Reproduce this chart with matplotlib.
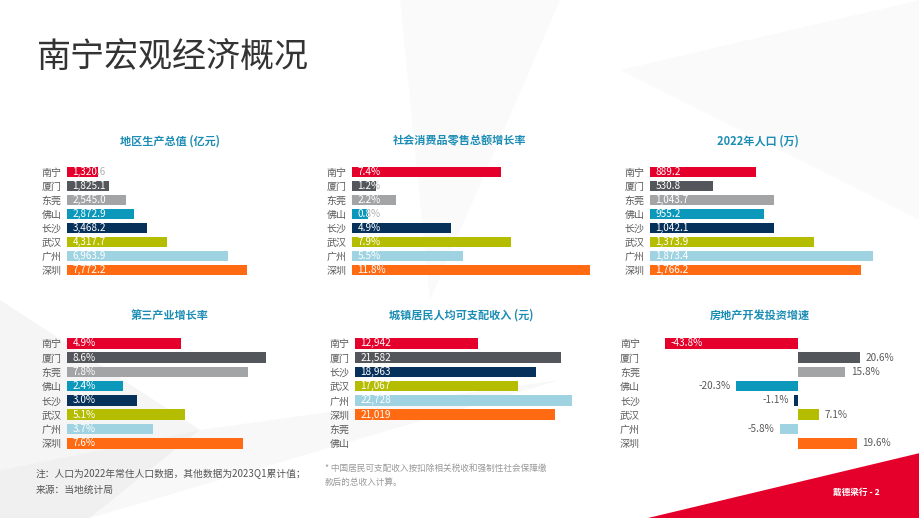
"""
南宁宏观经济概况 - six small bar charts on one slide
"""

import matplotlib.pyplot as plt
from matplotlib.patches import Polygon

plt.rcParams['font.family'] = ['Noto Sans CJK SC', 'DejaVu Sans']

W, H = 920, 518

# data
cities = ['南宁', '厦门', '东莞', '佛山', '长沙', '武汉', '广州', '深圳']
gdp = [1320.6, 1825.1, 2545.0, 2872.9, 3468.2, 4317.7, 6963.9, 7772.2]
retail_growth = [7.4, 1.2, 2.2, 0.8, 4.9, 7.9, 5.5, 11.8]
population = [889.2, 530.8, 1043.7, 955.2, 1042.1, 1373.9, 1873.4, 1766.2]
tertiary_growth = [4.9, 8.6, 7.8, 2.4, 3.0, 5.1, 3.7, 7.6]
income_cities = ['南宁', '厦门', '长沙', '武汉', '广州', '深圳', '东莞', '佛山']
income = [12942, 21582, 18963, 17067, 22728, 21019, None, None]
realestate_growth = [-43.8, 20.6, 15.8, -20.3, -1.1, 7.1, -5.8, 19.6]

city_colors = {
    '南宁': '#E4002B', '厦门': '#53565A', '东莞': '#A2A4A6', '佛山': '#0C98BA',
    '长沙': '#06315A', '武汉': '#B5BD00', '广州': '#9FD3E1', '深圳': '#FF6A13',
}

TITLE_COLOR = '#1C8DB4'
LABEL_COLOR = '#5A5A5A'

fig = plt.figure(figsize=(W / 100, H / 100), dpi=100)
fig.patch.set_facecolor('white')


def fx(x):
    return x / W


def fy(y):
    return 1 - y / H


# faint background shapes
bg = fig.add_axes([0, 0, 1, 1], zorder=-10)
bg.set_xlim(0, W)
bg.set_ylim(H, 0)
bg.axis('off')
shapes = [
    ([(0, 300), (200, 430), (0, 470)], '#f5f5f5'),
    ([(0, 470), (200, 430), (90, 518), (0, 518)], '#f0f0f0'),
    ([(200, 430), (560, 380), (90, 518)], '#f8f8f8'),
    ([(400, 0), (560, 0), (430, 300)], '#fafafa'),
    ([(620, 70), (920, 0), (920, 220)], '#fafafa'),
]
for pts, c in shapes:
    bg.add_patch(Polygon(pts, closed=True, facecolor=c, edgecolor='none'))
# red corner
bg.add_patch(Polygon([(648, 518), (920, 453), (920, 518)], closed=True,
                     facecolor='#E4002B', edgecolor='none'))


def style_axes(ax, labels, pad=4):
    ax.patch.set_alpha(0)
    ax.set_ylim(len(labels) - 0.5, -0.5)
    ax.set_yticks(range(len(labels)))
    ax.set_yticklabels(labels, fontsize=7.2, color=LABEL_COLOR)
    ax.tick_params(axis='y', length=0, pad=pad)
    ax.set_xticks([])
    for s in ax.spines.values():
        s.set_visible(False)


def bar_panel(left, top, width, height, labels, values, xlim, title, title_x,
              title_y, fmt):
    ax = fig.add_axes([fx(left), fy(top + height), fx(width), height / H])
    for i, (lab, v) in enumerate(zip(labels, values)):
        if v is None:
            continue
        bar = ax.barh(i, v, height=0.74, color=city_colors[lab], zorder=1)[0]
        # grey copy below the bar (shows where text runs past it),
        # white copy clipped to the bar
        ax.annotate(fmt(v), xy=(0, i), xytext=(4, 0), textcoords='offset points',
                    ha='left', va='center', color='#b0b0b0', fontsize=7.2,
                    zorder=0.5)
        t = ax.annotate(fmt(v), xy=(0, i), xytext=(4, 0), textcoords='offset points',
                        ha='left', va='center', color='white', fontsize=7.2,
                        zorder=2)
        t.set_clip_path(bar)
    ax.set_xlim(*xlim)
    style_axes(ax, labels)
    fig.text(fx(title_x), fy(title_y), title, ha='center', va='center',
             fontsize=8, fontweight='bold', color=TITLE_COLOR)
    return ax


top_row = (164.7, 112.3)
bot_row = (336.2, 114.2)

bar_panel(67, top_row[0], 180, top_row[1], cities, gdp, (0, 7772.2),
          '地区生产总值 (亿元)', 170, 141, lambda v: f'{v:,.1f}')
bar_panel(352, top_row[0], 237.6, top_row[1], cities, retail_growth, (0, 11.8),
          '社会消费品零售总额增长率', 460, 141, lambda v: f'{v:.1f}%')
bar_panel(650, top_row[0], 223.3, top_row[1], cities, population, (0, 1873.4),
          '2022年人口 (万)', 758, 141, lambda v: f'{v:,.1f}')
bar_panel(67, bot_row[0], 199.3, bot_row[1], cities, tertiary_growth, (0, 8.6),
          '第三产业增长率', 170, 315, lambda v: f'{v:.1f}%')
bar_panel(355, bot_row[0], 216.7, bot_row[1], income_cities, income, (0, 22728),
          '城镇居民人均可支配收入 (元)', 461, 315, lambda v: f'{v:,.0f}')

# real estate investment growth (diverging)
ax = fig.add_axes([fx(665), fy(bot_row[0] + bot_row[1]), fx(195), bot_row[1] / H])
for i, (lab, v) in enumerate(zip(cities, realestate_growth)):
    ax.barh(i, v, height=0.74, color=city_colors[lab])
    txt = f'{v:.1f}%'
    if lab == '南宁':
        ax.annotate(txt, xy=(v, i), xytext=(4, 0), textcoords='offset points',
                    ha='left', va='center', color='white', fontsize=7.2)
    elif v >= 0:
        ax.annotate(txt, xy=(v, i), xytext=(4, 0), textcoords='offset points',
                    ha='left', va='center', color=LABEL_COLOR, fontsize=7.2)
    else:
        ax.annotate(txt, xy=(v, i), xytext=(-4, 0), textcoords='offset points',
                    ha='right', va='center', color=LABEL_COLOR, fontsize=7.2)
ax.set_xlim(-43.8, 20.6)
style_axes(ax, cities, pad=18)
fig.text(fx(760), fy(315), '房地产开发投资增速', ha='center', va='center',
         fontsize=8, fontweight='bold', color=TITLE_COLOR)

# headline and notes
fig.text(fx(37), fy(57), '南宁宏观经济概况', ha='left', va='center',
         fontsize=24.5, color='#333333')
fig.text(fx(36), fy(474), '注：人口为2022年常住人口数据，其他数据为2023Q1累计值；',
         ha='left', va='center', fontsize=7, color='#555555')
fig.text(fx(36), fy(490), '来源：当地统计局', ha='left', va='center',
         fontsize=7, color='#555555')
fig.text(fx(325), fy(468), '* 中国居民可支配收入按扣除相关税收和强制性社会保障缴',
         ha='left', va='center', fontsize=6.2, color='#999999')
fig.text(fx(325), fy(482), '款后的总收入计算。', ha='left', va='center',
         fontsize=6.2, color='#999999')
fig.text(fx(880), fy(492), '戴德梁行 - 2', ha='right', va='center',
         fontsize=6.2, fontweight='bold', color='white')

fig.savefig('out.png', dpi=100)
